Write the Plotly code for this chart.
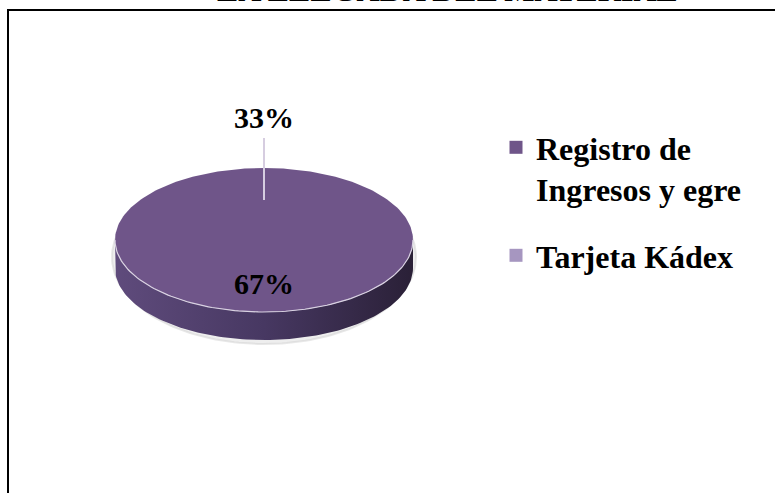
import numpy as np
import plotly.graph_objects as go

# ---- data ----
title_text = "LA LLEGADA DEL MATERIAL"
categories = ["Registro de<br>Ingresos y egre", "Tarjeta Kádex"]
label_text = ["67%", "33%"]
drawn_share = [1.0, 0.0]          # share of the disc each slice occupies as drawn
slice_colors = ["#6f5589", "#a696c0"]

W, H = 775, 493
cx, cy, rx, ry, depth = 264, 240, 149, 72, 28
FONT = "Liberation Serif"

fig = go.Figure()

# soft shadow around the disc
t = np.linspace(0, 2 * np.pi, 200)
fig.add_trace(go.Scatter(
    x=cx + (rx + 3) * np.cos(t), y=cy + depth / 2 + 3 + (ry + depth / 2 + 1) * np.sin(t),
    mode="lines", fill="toself", fillcolor="rgba(205,205,205,0.35)",
    line=dict(color="rgba(205,205,205,0.45)", width=2), hoverinfo="skip", showlegend=False))

# side wall of the 3D disc
ts = np.linspace(0, np.pi, 120)
sx = np.concatenate([cx + rx * np.cos(ts), cx + rx * np.cos(ts[::-1])])
sy = np.concatenate([cy + ry * np.sin(ts), cy + depth + ry * np.sin(ts[::-1])])
fig.add_trace(go.Scatter(
    x=sx, y=sy, mode="lines", fill="toself",
    fillgradient=dict(type="horizontal",
                      colorscale=[[0, "#5f4b7c"], [0.5, "#473862"], [1, "#2a2037"]]),
    line=dict(width=0), hoverinfo="skip", showlegend=False))

# top face: sectors from the drawn shares, clockwise from 12 o'clock
start = 0.0
for share, col in zip(drawn_share, slice_colors):
    if share <= 0:
        start += share
        continue
    a = np.linspace(start, start + share, max(int(share * 240), 2)) * 2 * np.pi
    px = cx + rx * np.sin(a)
    py = cy - ry * np.cos(a)
    if share < 1:
        px = np.concatenate([[cx], px, [cx]])
        py = np.concatenate([[cy], py, [cy]])
    fig.add_trace(go.Scatter(x=px, y=py, mode="lines", fill="toself", fillcolor=col,
                             line=dict(width=0), hoverinfo="skip", showlegend=False))
    start += share

# light rim on the front edge of the top face
fig.add_trace(go.Scatter(x=cx + rx * np.cos(ts), y=cy + ry * np.sin(ts), mode="lines",
                         line=dict(color="#d9d2e2", width=1.2), hoverinfo="skip", showlegend=False))

# leader line of the small slice
fig.add_trace(go.Scatter(x=[cx, cx], y=[138, 200], mode="lines",
                         line=dict(color="#d6cde0", width=2), hoverinfo="skip", showlegend=False))

# data labels
fig.add_annotation(x=cx, y=283, xref="x", yref="y", text="<b>%s</b>" % label_text[0],
                   showarrow=False, font=dict(family=FONT, size=30, color="black"))
fig.add_annotation(x=cx, y=117, xref="x", yref="y", text="<b>%s</b>" % label_text[1],
                   showarrow=False, font=dict(family=FONT, size=30, color="black"))

# legend entries
for i, (name, col) in enumerate(zip(categories, slice_colors)):
    fig.add_trace(go.Scatter(x=[None], y=[None], mode="markers", name="<b>%s</b>" % name,
                             marker=dict(symbol="square", size=13, color=col),
                             legend="legend" if i == 0 else "legend2"))

# title (mostly cut off at the top of the picture)
fig.add_annotation(x=447 / W, y=1, xref="paper", yref="paper", xanchor="center",
                   yanchor="bottom", yshift=-10, text="<b>%s</b>" % title_text, showarrow=False,
                   font=dict(family=FONT, size=32, color="black"))

# chart frame
fig.add_shape(type="rect", xref="paper", yref="paper", x0=8 / W, x1=1.05, y0=-0.05, y1=1 - 10 / H,
              line=dict(color="black", width=2), layer="above")

leg_common = dict(font=dict(family=FONT, size=32, color="black"), bgcolor="rgba(0,0,0,0)",
                  xanchor="left", yanchor="top", valign="top", itemwidth=30)
fig.update_layout(
    width=W, height=H, margin=dict(l=0, r=0, t=0, b=0),
    paper_bgcolor="white", plot_bgcolor="white",
    xaxis=dict(range=[0, W], visible=False, domain=[0, 1], fixedrange=True),
    yaxis=dict(range=[H, 0], visible=False, domain=[0, 1], fixedrange=True),
    showlegend=True,
    legend=dict(x=496 / W, y=1 - 120 / H, **leg_common),
    legend2=dict(x=496 / W, y=1 - 228 / H, **leg_common),
)

fig.write_html("out.html")
